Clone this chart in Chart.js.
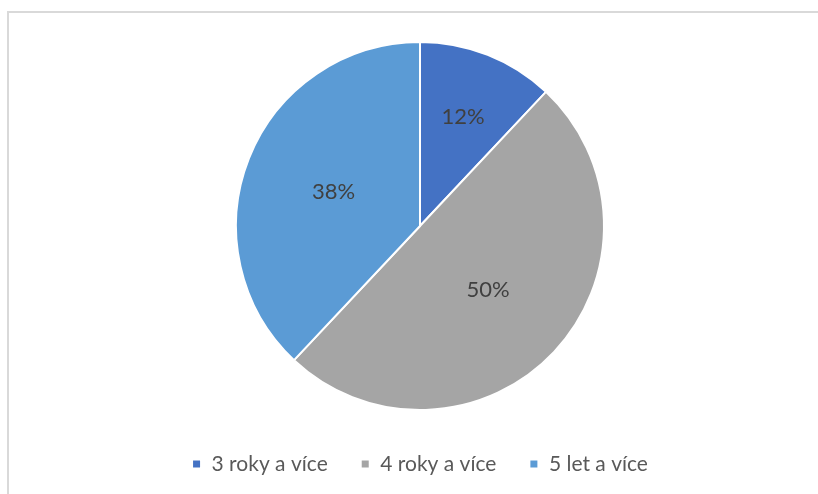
<!DOCTYPE html>
<html>
<head>
<meta charset="utf-8">
<script src="https://cdn.jsdelivr.net/npm/chart.js@4.4.1/dist/chart.umd.min.js"></script>
<style>
  html, body { margin: 0; padding: 0; background: #ffffff; }
  #wrap { position: relative; width: 818px; height: 494px; overflow: hidden; }
  #frame { position: absolute; left: 7px; top: 11px; width: 830px; height: 500px;
           border-top: 2px solid #d9d9d9; border-left: 2px solid #d9d9d9; box-sizing: border-box; }
  canvas { position: absolute; left: 0; top: 0; }
</style>
</head>
<body>
<div id="wrap">
  <div id="frame"></div>
  <canvas id="c" width="818" height="494"></canvas>
</div>
<script>
const categories = ['3 roky a více', '4 roky a více', '5 let a více'];
const shares = [12, 50, 38];
const valueLabels = ['12%', '50%', '38%'];

const sliceColors = ['#4472C4', '#A5A5A5', '#5B9BD5'];
const labelRadiusRatio = [0.635, 0.507, 0.505];

const pieLabels = {
  id: 'pieLabels',
  afterDatasetsDraw(chart) {
    const ctx = chart.ctx;
    const meta = chart.getDatasetMeta(0);
    ctx.save();
    ctx.font = '22px Lato, "Open Sans", sans-serif';
    ctx.fillStyle = '#404040';
    ctx.textAlign = 'center';
    ctx.textBaseline = 'middle';
    meta.data.forEach((arc, i) => {
      const p = arc.getProps(['x', 'y', 'startAngle', 'endAngle', 'outerRadius'], true);
      const mid = (p.startAngle + p.endAngle) / 2;
      const r = p.outerRadius * labelRadiusRatio[i];
      ctx.fillText(valueLabels[i], p.x + Math.cos(mid) * r, p.y + Math.sin(mid) * r);
    });
    ctx.restore();
  }
};

new Chart(document.getElementById('c'), {
  type: 'pie',
  data: {
    labels: categories,
    datasets: [{
      data: shares,
      backgroundColor: sliceColors,
      borderColor: '#ffffff',
      borderWidth: 2,
      radius: 184
    }]
  },
  options: {
    responsive: false,
    animation: false,
    layout: { padding: { top: 31.5, bottom: 9.5, left: 22, right: 0 } },
    plugins: {
      tooltip: { enabled: false },
      legend: {
        position: 'bottom',
        labels: {
          boxWidth: 9,
          boxHeight: 9,
          padding: 33,
          color: '#595959',
          font: { family: 'Lato, "Open Sans", sans-serif', size: 21 }
        }
      }
    }
  },
  plugins: [pieLabels]
});
</script>
</body>
</html>
